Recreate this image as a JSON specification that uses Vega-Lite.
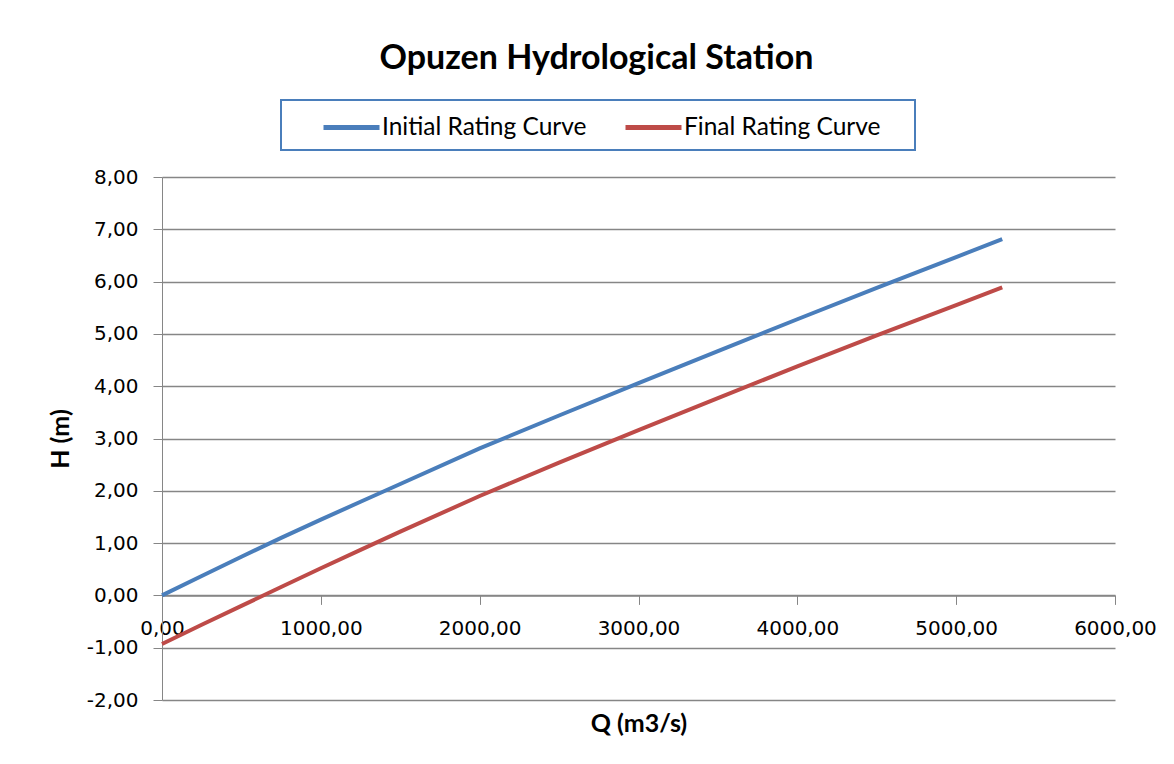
{
  "$schema": "https://vega.github.io/schema/vega-lite/v6.json",
  "width": 953,
  "height": 523,
  "autosize": "none",
  "padding": {"left": 162, "top": 177, "right": 59, "bottom": 64},
  "background": "white",
  "title": {
    "text": "Opuzen Hydrological Station",
    "font": "Lato",
    "fontSize": 34,
    "fontWeight": "bold",
    "color": "black",
    "anchor": "middle",
    "frame": "group",
    "dx": -42,
    "baseline": "alphabetic",
    "offset": -4
  },
  "data": {
    "values": [
      {"Q": 0, "H": 0.0, "curve": "Initial Rating Curve"},
      {"Q": 250, "H": 0.37, "curve": "Initial Rating Curve"},
      {"Q": 500, "H": 0.74, "curve": "Initial Rating Curve"},
      {"Q": 750, "H": 1.10, "curve": "Initial Rating Curve"},
      {"Q": 1000, "H": 1.45, "curve": "Initial Rating Curve"},
      {"Q": 1250, "H": 1.79, "curve": "Initial Rating Curve"},
      {"Q": 1500, "H": 2.13, "curve": "Initial Rating Curve"},
      {"Q": 2000, "H": 2.81, "curve": "Initial Rating Curve"},
      {"Q": 2500, "H": 3.44, "curve": "Initial Rating Curve"},
      {"Q": 3000, "H": 4.06, "curve": "Initial Rating Curve"},
      {"Q": 3500, "H": 4.67, "curve": "Initial Rating Curve"},
      {"Q": 4000, "H": 5.28, "curve": "Initial Rating Curve"},
      {"Q": 4500, "H": 5.88, "curve": "Initial Rating Curve"},
      {"Q": 5000, "H": 6.47, "curve": "Initial Rating Curve"},
      {"Q": 5290, "H": 6.81, "curve": "Initial Rating Curve"},
      {"Q": 0, "H": -0.93, "curve": "Final Rating Curve"},
      {"Q": 250, "H": -0.56, "curve": "Final Rating Curve"},
      {"Q": 500, "H": -0.20, "curve": "Final Rating Curve"},
      {"Q": 750, "H": 0.16, "curve": "Final Rating Curve"},
      {"Q": 1000, "H": 0.52, "curve": "Final Rating Curve"},
      {"Q": 1250, "H": 0.87, "curve": "Final Rating Curve"},
      {"Q": 1500, "H": 1.22, "curve": "Final Rating Curve"},
      {"Q": 2000, "H": 1.90, "curve": "Final Rating Curve"},
      {"Q": 2500, "H": 2.54, "curve": "Final Rating Curve"},
      {"Q": 3000, "H": 3.16, "curve": "Final Rating Curve"},
      {"Q": 3500, "H": 3.77, "curve": "Final Rating Curve"},
      {"Q": 4000, "H": 4.38, "curve": "Final Rating Curve"},
      {"Q": 4500, "H": 4.97, "curve": "Final Rating Curve"},
      {"Q": 5000, "H": 5.55, "curve": "Final Rating Curve"},
      {"Q": 5290, "H": 5.89, "curve": "Final Rating Curve"}
    ]
  },
  "mark": {"type": "line", "strokeWidth": 4, "clip": false},
  "encoding": {
    "x": {
      "field": "Q",
      "type": "quantitative",
      "scale": {"domain": [0, 6000], "nice": false, "zero": false},
      "axis": {
        "values": [0, 1000, 2000, 3000, 4000, 5000, 6000],
        "format": ".2f",
        "labelExpr": "replace(datum.label, '.', ',')",
        "offset": -104.6,
        "grid": false,
        "tickSize": 9,
        "tickColor": "#868686",
        "domainColor": "#868686",
        "domainWidth": 1.5,
        "labelFont": "DejaVu Sans",
        "labelFontSize": 20,
        "labelColor": "black",
        "labelPadding": 14,
        "labelFlush": false,
        "labelOverlap": false,
        "title": "Q (m3/s)",
        "titleFont": "Lato",
        "titleFontSize": 25,
        "titleFontWeight": "bold",
        "titleColor": "black",
        "titleY": 128,
        "titleBaseline": "middle"
      }
    },
    "y": {
      "field": "H",
      "type": "quantitative",
      "scale": {"domain": [-2, 8], "nice": false, "zero": false},
      "axis": {
        "values": [-2, -1, 0, 1, 2, 3, 4, 5, 6, 7, 8],
        "format": ".2f",
        "labelExpr": "replace(replace(datum.label, '.', ','), '\u2212', '-')",
        "grid": true,
        "gridColor": "#868686",
        "gridWidth": 1.5,
        "tickSize": 9,
        "tickColor": "#868686",
        "domainColor": "#868686",
        "domainWidth": 1,
        "labelFont": "DejaVu Sans",
        "labelFontSize": 20,
        "labelColor": "black",
        "labelPadding": 15,
        "title": "H (m)",
        "titleFont": "Lato",
        "titleFontSize": 25,
        "titleFontWeight": "bold",
        "titleColor": "black",
        "titleX": -102,
        "titleBaseline": "middle"
      }
    },
    "color": {
      "field": "curve",
      "type": "nominal",
      "scale": {
        "domain": ["Initial Rating Curve", "Final Rating Curve"],
        "range": ["#4a7ebb", "#be4b48"]
      },
      "legend": {
        "orient": "none",
        "legendX": 119,
        "legendY": -77,
        "direction": "horizontal",
        "title": "\u00a0",
        "titleOrient": "right",
        "titlePadding": 23,
        "titleFontSize": 10,
        "symbolType": "M-2,0H2",
        "symbolSize": 784,
        "symbolStrokeWidth": 5,
        "symbolFillColor": "transparent",
        "symbolOffset": 43,
        "labelFont": "Lato",
        "labelFontSize": 24.5,
        "labelColor": "black",
        "labelLimit": 500,
        "labelOffset": 14,
        "labelExpr": "datum.label + '\u00a0\u00a0\u00a0\u00a0'",
        "columnPadding": 7,
        "padding": 11,
        "strokeColor": "#4a7ebb",
        "fillColor": "white",
        "encode": {"legend": {"update": {"strokeWidth": {"value": 2}}}}
      }
    }
  },
  "config": {"view": {"stroke": null}}
}
